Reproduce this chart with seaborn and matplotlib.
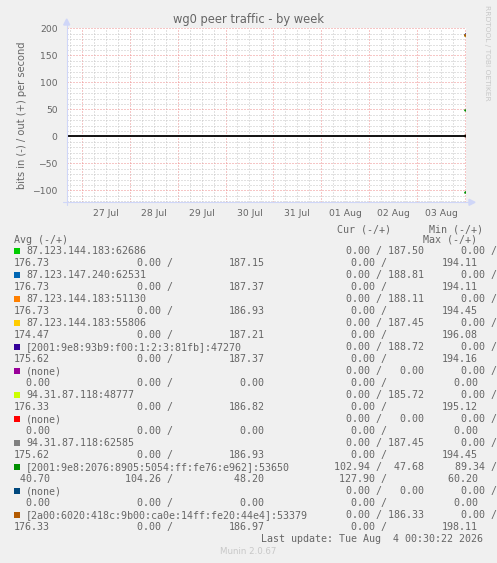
#!/usr/bin/env python3
"""Munin style wg0 peer traffic chart (by week), redrawn with seaborn/matplotlib."""
import numpy as np
import pandas as pd
import matplotlib
matplotlib.use("Agg")
import matplotlib.pyplot as plt
import matplotlib.dates as mdates
from matplotlib.patches import Rectangle, Polygon
from matplotlib.lines import Line2D
from matplotlib.ticker import MultipleLocator, FuncFormatter, NullFormatter
import seaborn as sns

# ---- data ----
peers = [
    "87.123.144.183:62686",
    "87.123.147.240:62531",
    "87.123.144.183:51130",
    "87.123.144.183:55806",
    "[2001:9e8:93b9:f00:1:2:3:81fb]:47270",
    "(none)",
    "94.31.87.118:48777",
    "(none) ",
    "94.31.87.118:62585",
    "[2001:9e8:2076:8905:5054:ff:fe76:e962]:53650",
    "(none)  ",
    "[2a00:6020:418c:9b00:ca0e:14ff:fe20:44e4]:53379",
]
colors = ["#00CC00", "#0066B3", "#FF8000", "#FFCC00", "#330099", "#990099",
          "#CCFF00", "#FF0000", "#808080", "#008F00", "#00487D", "#B35A00"]

cur_in = [0, 0, 0, 0, 0, 0, 0, 0, 0, 102.94, 0, 0]
cur_out = [187.50, 188.81, 188.11, 187.45, 188.72, 0, 185.72, 0, 187.45, 47.68, 0, 186.33]
min_in = [0, 0, 0, 0, 0, 0, 0, 0, 0, 89.34, 0, 0]
min_out = [176.73, 176.73, 176.73, 174.47, 175.62, 0, 176.33, 0, 175.62, 40.70, 0, 176.33]
avg_in = [0, 0, 0, 0, 0, 0, 0, 0, 0, 104.26, 0, 0]
avg_out = [187.15, 187.37, 186.93, 187.21, 187.37, 0, 186.82, 0, 186.93, 48.20, 0, 186.97]
max_in = [0, 0, 0, 0, 0, 0, 0, 0, 0, 127.90, 0, 0]
max_out = [194.11, 194.11, 194.45, 196.08, 194.16, 0, 195.12, 0, 194.45, 60.20, 0, 198.11]

# the only samples on the graph: the last two 30-minute steps
sample_times = ["2026-08-04 00:00", "2026-08-04 00:30"]
view_start = "2026-07-26 16:30"
view_end = "2026-08-04 00:30"
last_update = "Last update: Tue Aug  4 00:30:22 2026"

W, H = 497, 563
FONT = "#666666"
AXIS = "#CFD6F8"


def fx(x):
    return x / W


def fy(y):
    return 1 - y / H


def build_frame():
    rows = []
    for i, p in enumerate(peers):
        ins = [avg_in[i], cur_in[i]]
        outs = [avg_out[i], cur_out[i]]
        for t, vi, vo in zip(sample_times, ins, outs):
            rows.append({"time": pd.Timestamp(t), "value": -vi, "peer": p, "dir": "in"})
            rows.append({"time": pd.Timestamp(t), "value": vo, "peer": p, "dir": "out"})
    return pd.DataFrame(rows)


def main():
    sns.set_style("white")
    plt.rcParams["font.family"] = ["DejaVu Sans"]

    fig = plt.figure(figsize=(W / 100, H / 100), dpi=100, facecolor="#F0F0F0")
    left, top, right, bottom = 66.7, 28.3, 466.2, 202.3
    ax = fig.add_axes([fx(left), fy(bottom), (right - left) / W, (bottom - top) / H])
    ax.set_facecolor("white")

    df = build_frame()
    pal = dict(zip(peers, colors))
    sns.lineplot(data=df, x="time", y="value", hue="peer", units="dir",
                 estimator=None, palette=pal, legend=False, lw=1.6, ax=ax, zorder=4)
    ax.axhline(0, color="black", lw=1.3, zorder=5)

    ax.set_xlim(pd.Timestamp(view_start), pd.Timestamp(view_end))
    ax.set_ylim(-122, 200)

    # grid: red majors, grey minors, dotted like rrdtool
    dot = (0, (1, 2))
    ax.yaxis.set_major_locator(MultipleLocator(50))
    ax.yaxis.set_minor_locator(MultipleLocator(10))
    ax.xaxis.set_major_locator(mdates.DayLocator())
    ax.xaxis.set_minor_locator(mdates.HourLocator(byhour=[0, 6, 12, 18]))
    ax.xaxis.set_major_formatter(NullFormatter())
    ax.xaxis.set_minor_formatter(FuncFormatter(
        lambda v, pos: mdates.num2date(v).strftime("%d %b") if mdates.num2date(v).hour == 12 else ""))
    ax.grid(which="minor", color="#C4C4C4", ls=dot, lw=0.72)
    ax.grid(which="major", color="#EE8F8F", ls=dot, lw=0.72)
    ax.set_axisbelow(True)

    for s in ax.spines.values():
        s.set_visible(False)
    ax.tick_params(axis="both", which="both", colors=AXIS, labelcolor=FONT,
                   labelsize=6.7, length=2, width=0.7)
    ax.tick_params(axis="y", which="major", pad=4.5)
    ax.tick_params(axis="x", which="minor", pad=2.5)
    ax.set_xlabel("")
    ax.set_ylabel("bits in (-) / out (+) per second", color=FONT, fontsize=7.1, labelpad=4)

    # axis lines with arrows
    fig.add_artist(Line2D([fx(left), fx(left)], [fy(205), fy(24)], color=AXIS, lw=0.8))
    fig.add_artist(Line2D([fx(63), fx(470)], [fy(bottom), fy(bottom)], color=AXIS, lw=0.8))
    fig.add_artist(Polygon([[fx(left - 3), fy(25)], [fx(left + 3), fy(25)], [fx(left), fy(19)]],
                           closed=True, color=AXIS))
    fig.add_artist(Polygon([[fx(469), fy(bottom - 3)], [fx(469), fy(bottom + 3)], [fx(475), fy(bottom)]],
                           closed=True, color=AXIS))

    fig.text(fx(249), fy(19), "wg0 peer traffic - by week", ha="center", va="center",
             fontsize=8.3, color=FONT)
    fig.text(fx(487.5), fy(53), "RRDTOOL / TOBI OETIKER", rotation=-90, ha="center", va="center",
             fontsize=5.4, color="#C8C8C8")

    # legend block, monospace like munin
    mono = dict(family="DejaVu Sans Mono", fontsize=7.2, color=FONT, va="center")
    fig.text(fx(337), fy(229), "Cur (-/+)", **mono)
    fig.text(fx(429), fy(229), "Min (-/+)", **mono)
    fig.text(fx(14), fy(240), "Avg (-/+)", **mono)
    fig.text(fx(423), fy(240), "Max (-/+)", **mono)
    for i, p in enumerate(peers):
        yn = 251 + 24 * i
        yv = 263 + 24 * i
        fig.add_artist(Rectangle((fx(14), fy(yn + 3)), 6 / W, 6 / H, color=colors[i], lw=0))
        fig.text(fx(26), fy(yn), p.strip(), **mono)
        fig.text(fx(334.3), fy(yn), f"{cur_in[i]:6.2f} / {cur_out[i]:6.2f}", **mono)
        fig.text(fx(449), fy(yn), f"{min_in[i]:6.2f} /", **mono)
        fig.text(fx(14), fy(yv), f"{min_out[i]:6.2f}", **mono)
        fig.text(fx(125.3), fy(yv), f"{avg_in[i]:6.2f} /", **mono)
        fig.text(fx(228.3), fy(yv), f"{avg_out[i]:6.2f}", **mono)
        fig.text(fx(339), fy(yv), f"{max_in[i]:6.2f} /", **mono)
        fig.text(fx(441.7), fy(yv), f"{max_out[i]:6.2f}", **mono)
    fig.text(fx(483), fy(539.5), last_update, ha="right", **mono)
    fig.text(fx(248), fy(552), "Munin 2.0.67", ha="center", va="center", fontsize=6.2, color="#C8C8C8")

    fig.savefig("out.png", dpi=100, facecolor=fig.get_facecolor())
    plt.close(fig)


if __name__ == "__main__":
    main()
